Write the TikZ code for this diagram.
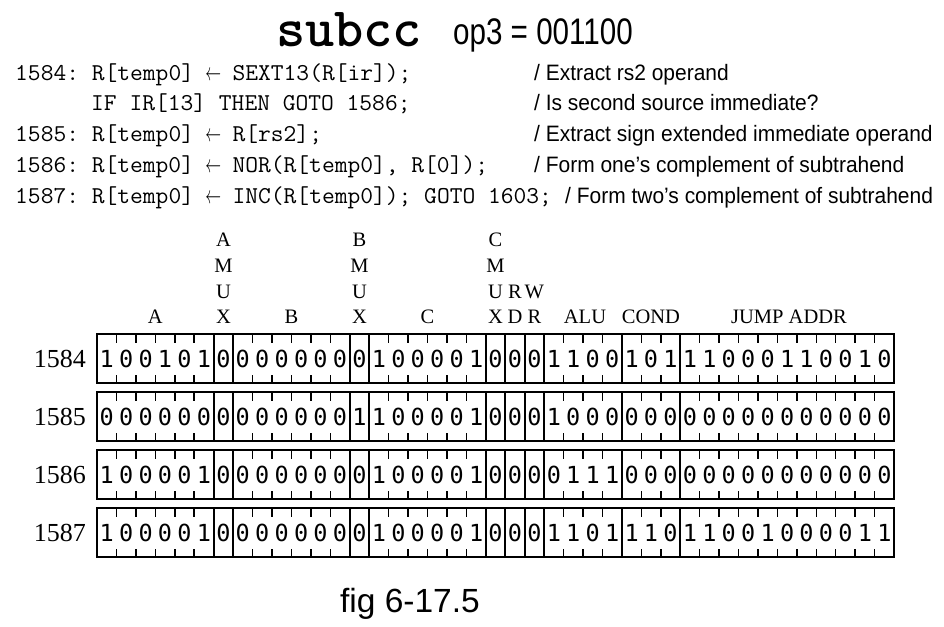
\documentclass[tikz,border=0pt]{standalone}
\usepackage{fontspec}
\setmainfont{Liberation Serif}
\newfontfamily\sansf{Liberation Sans}
\newfontfamily\bitf{DejaVu Sans Mono}
\newcommand\arr{\makebox[0.525em][c]{\scalebox{0.62}[1]{$\leftarrow$}}}
\newcommand\bitrow[2]{%
  \foreach \b [count=\i from 0] in {#2} {
    \node[bit] (b#1-\i) at ({97+(\i+0.5)*19.44}, {334+58*#1+24.5}) {\b};
  }%
}
\tikzset{
  bit/.style={inner sep=0pt, font=\bitf\fontsize{23.5}{24}\selectfont},
  code/.style={inner sep=0pt, anchor=base west, xscale=1.025, font=\ttfamily\frenchspacing\fontsize{24.2}{26}\selectfont},
  cmt/.style={inner sep=0pt, anchor=base west, xscale=0.94, font=\sansf\fontsize{22.3}{24}\selectfont},
  hdr/.style={inner sep=0pt, anchor=base, font=\fontsize{20.5}{20}\selectfont},
  rowlab/.style={inner sep=0pt, anchor=east, font=\fontsize{26}{26}\selectfont},
  frame/.style={line width=2.4pt},
  divider/.style={line width=2pt},
  tick/.style={line width=1.5pt},
}
\begin{document}
\begin{tikzpicture}[x=1pt,y=-1pt]
\useasboundingbox (0,0) rectangle (944,626);
% title
\node[inner sep=0pt, anchor=base west, font=\ttfamily\bfseries\fontsize{55.6}{56}\selectfont] (title) at (276,47) {subcc};
\node[inner sep=0pt, anchor=base west, xscale=0.8, font=\sansf\fontsize{37}{37}\selectfont] (op3) at (453,45) {op3 = 001100};
% code
\node[code] (c1) at (15,80) {1584: R[temp0] \arr{} SEXT13(R[ir]);};
\node[code] (c2) at (91,110) {IF IR[13] THEN GOTO 1586;};
\node[code] (c3) at (15,141) {1585: R[temp0] \arr{} R[rs2];};
\node[code] (c4) at (15,172) {1586: R[temp0] \arr{} NOR(R[temp0], R[0]);};
\node[code] (c5) at (15,203) {1587: R[temp0] \arr{} INC(R[temp0]); GOTO 1603;};
\node[cmt] (m1) at (534,80) {/ Extract rs2 operand};
\node[cmt] (m2) at (534,110) {/ Is second source immediate?};
\node[cmt] (m3) at (534,141) {/ Extract sign extended immediate operand};
\node[cmt] (m4) at (534,172) {/ Form one’s complement of subtrahend};
\node[cmt] (m5) at (565,203) {/ Form two’s complement of subtrahend};
% headers
\foreach \x/\a/\n in {223.4/A/am, 359.4/B/bm, 495.5/C/cm} {
  \node[hdr] (\n1) at (\x,246) {\a};
  \node[hdr] (\n2) at (\x,272) {M};
  \node[hdr] (\n3) at (\x,298) {U};
  \node[hdr] (\n4) at (\x,323) {X};
}
\node[hdr] (rd1) at (515,298) {R};
\node[hdr] (rd2) at (515,323) {D};
\node[hdr] (wr1) at (534.4,298) {W};
\node[hdr] (wr2) at (534.4,323) {R};
\node[hdr] (fa) at (155.3,323) {A};
\node[hdr] (fb) at (291.4,323) {B};
\node[hdr] (fc) at (427.5,323) {C};
\node[hdr] (falu) at (585,323) {ALU};
\node[hdr] (fcond) at (651,323) {COND};
\node[hdr] (fjump) at (789,323) {JUMP ADDR};
% rows
\foreach \r/\lab in {0/1584,1/1585,2/1586,3/1587} {
  \pgfmathsetmacro\yt{334+58*\r}
  \pgfmathsetmacro\yb{\yt+49}
  \node[rowlab] (lab\r) at (86,{\yt+24.5}) {\lab};
  \foreach \k in {6,7,13,14,20,21,22,23,27,30}
    \draw[divider] ({97+\k*19.44},\yt) -- ({97+\k*19.44},\yb);
  \foreach \k in {1,2,3,4,5,8,9,10,11,12,15,16,17,18,19,24,25,26,28,29,31,32,33,34,35,36,37,38,39,40} {
    \draw[tick] ({97+\k*19.44},\yt) -- ++(0,8.5);
    \draw[tick] ({97+\k*19.44},\yb) -- ++(0,-8.5);
  }
  \draw[frame] (97,\yt) rectangle (894,\yb);
}
\bitrow{0}{1,0,0,1,0,1, 0, 0,0,0,0,0,0, 0, 1,0,0,0,0,1, 0,0,0, 1,1,0,0, 1,0,1, 1,1,0,0,0,1,1,0,0,1,0}
\bitrow{1}{0,0,0,0,0,0, 0, 0,0,0,0,0,0, 1, 1,0,0,0,0,1, 0,0,0, 1,0,0,0, 0,0,0, 0,0,0,0,0,0,0,0,0,0,0}
\bitrow{2}{1,0,0,0,0,1, 0, 0,0,0,0,0,0, 0, 1,0,0,0,0,1, 0,0,0, 0,1,1,1, 0,0,0, 0,0,0,0,0,0,0,0,0,0,0}
\bitrow{3}{1,0,0,0,0,1, 0, 0,0,0,0,0,0, 0, 1,0,0,0,0,1, 0,0,0, 1,1,0,1, 1,1,0, 1,1,0,0,1,0,0,0,0,1,1}
% caption
\node[inner sep=0pt, anchor=base, font=\sansf\fontsize{33.5}{34}\selectfont] (cap) at (410,612) {fig 6-17.5};
\end{tikzpicture}
\end{document}
